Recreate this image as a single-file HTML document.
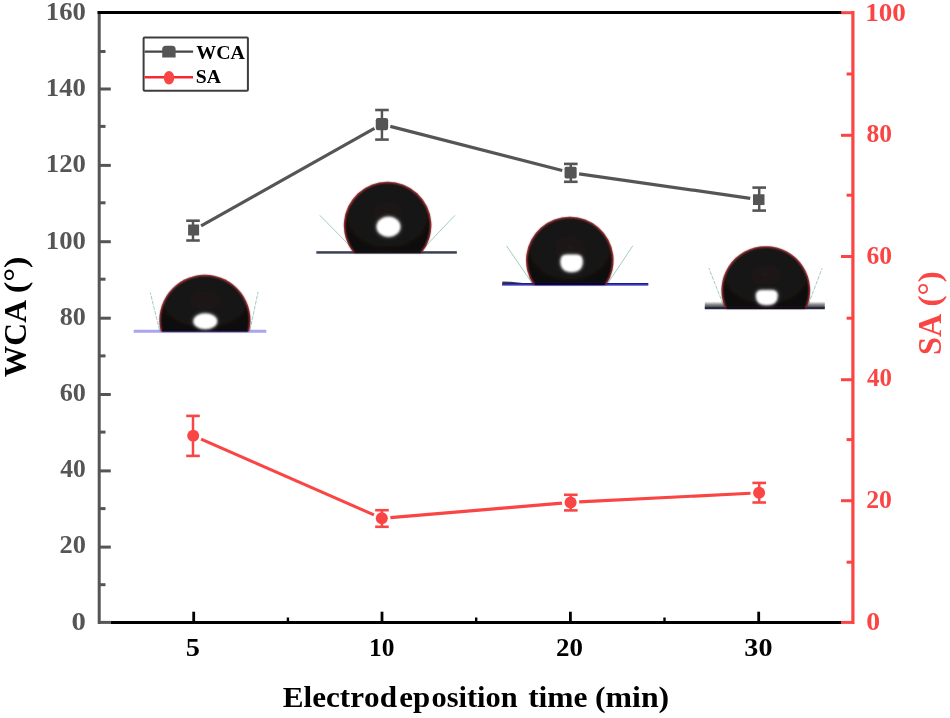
<!DOCTYPE html>
<html><head><meta charset="utf-8"><title>WCA / SA vs electrodeposition time</title>
<style>html,body{margin:0;padding:0;background:#fff;}body{width:950px;height:718px;overflow:hidden;font-family:"Liberation Serif",serif;}svg{display:block;}text{font-family:"Liberation Serif",serif;font-weight:bold;font-kerning:none;}</style>
</head><body>
<svg width="950" height="718" viewBox="0 0 950 718">
<defs><filter id="b1" filterUnits="userSpaceOnUse" x="0" y="0" width="950" height="718"><feGaussianBlur stdDeviation="1.1"/></filter><filter id="b0" filterUnits="userSpaceOnUse" x="0" y="0" width="950" height="718"><feGaussianBlur stdDeviation="0.55"/></filter><filter id="bt" filterUnits="userSpaceOnUse" x="0" y="0" width="950" height="718"><feGaussianBlur stdDeviation="0.5"/></filter><filter id="b2" filterUnits="userSpaceOnUse" x="0" y="0" width="950" height="718"><feGaussianBlur stdDeviation="2.2"/></filter><filter id="bd" filterUnits="userSpaceOnUse" x="0" y="0" width="950" height="718"><feGaussianBlur stdDeviation="0.8"/></filter><radialGradient id="dg" cx="50%" cy="45%" r="60%"><stop offset="0" stop-color="#1c1a19"/><stop offset="0.7" stop-color="#161413"/><stop offset="1" stop-color="#0c0b0b"/></radialGradient></defs>
<rect width="950" height="718" fill="#fff"/>
<g id="axes" filter="url(#bt)">
<line x1="110.6" y1="622.4" x2="841.5" y2="622.4" stroke="#000000" stroke-width="3"/>
<line x1="193.7" y1="622.4" x2="193.7" y2="611.7" stroke="#000000" stroke-width="2.8"/>
<line x1="382.0" y1="622.4" x2="382.0" y2="611.7" stroke="#000000" stroke-width="2.8"/>
<line x1="570.4" y1="622.4" x2="570.4" y2="611.7" stroke="#000000" stroke-width="2.8"/>
<line x1="758.7" y1="622.4" x2="758.7" y2="611.7" stroke="#000000" stroke-width="2.8"/>
<line x1="287.9" y1="622.4" x2="287.9" y2="617.5" stroke="#000000" stroke-width="2.4"/>
<line x1="476.2" y1="622.4" x2="476.2" y2="617.5" stroke="#000000" stroke-width="2.4"/>
<line x1="664.5" y1="622.4" x2="664.5" y2="617.5" stroke="#000000" stroke-width="2.4"/>
<line x1="99.2" y1="11.2" x2="99.2" y2="623.9" stroke="#555555" stroke-width="3.0"/>
<line x1="99.2" y1="622.40" x2="110.8" y2="622.40" stroke="#555555" stroke-width="3"/>
<line x1="99.2" y1="584.70" x2="105.5" y2="584.70" stroke="#555555" stroke-width="3"/>
<line x1="99.2" y1="547.10" x2="110.8" y2="547.10" stroke="#555555" stroke-width="3"/>
<line x1="99.2" y1="508.60" x2="105.5" y2="508.60" stroke="#555555" stroke-width="3"/>
<line x1="99.2" y1="470.90" x2="110.8" y2="470.90" stroke="#555555" stroke-width="3"/>
<line x1="99.2" y1="432.10" x2="105.5" y2="432.10" stroke="#555555" stroke-width="3"/>
<line x1="99.2" y1="394.50" x2="110.8" y2="394.50" stroke="#555555" stroke-width="3"/>
<line x1="99.2" y1="355.90" x2="105.5" y2="355.90" stroke="#555555" stroke-width="3"/>
<line x1="99.2" y1="318.20" x2="110.8" y2="318.20" stroke="#555555" stroke-width="3"/>
<line x1="99.2" y1="279.20" x2="105.5" y2="279.20" stroke="#555555" stroke-width="3"/>
<line x1="99.2" y1="241.70" x2="110.8" y2="241.70" stroke="#555555" stroke-width="3"/>
<line x1="99.2" y1="202.80" x2="105.5" y2="202.80" stroke="#555555" stroke-width="3"/>
<line x1="99.2" y1="165.40" x2="110.8" y2="165.40" stroke="#555555" stroke-width="3"/>
<line x1="99.2" y1="126.40" x2="105.5" y2="126.40" stroke="#555555" stroke-width="3"/>
<line x1="99.2" y1="89.00" x2="110.8" y2="89.00" stroke="#555555" stroke-width="3"/>
<line x1="99.2" y1="51.50" x2="105.5" y2="51.50" stroke="#555555" stroke-width="3"/>
<line x1="852.9" y1="11.1" x2="852.9" y2="623.9" stroke="#fa4545" stroke-width="3.2"/>
<line x1="841.0" y1="622.40" x2="852.9" y2="622.40" stroke="#fa4545" stroke-width="3"/>
<line x1="846.6" y1="562.20" x2="852.9" y2="562.20" stroke="#fa4545" stroke-width="3"/>
<line x1="841.0" y1="500.70" x2="852.9" y2="500.70" stroke="#fa4545" stroke-width="3"/>
<line x1="846.6" y1="439.60" x2="852.9" y2="439.60" stroke="#fa4545" stroke-width="3"/>
<line x1="841.0" y1="379.70" x2="852.9" y2="379.70" stroke="#fa4545" stroke-width="3"/>
<line x1="846.6" y1="318.20" x2="852.9" y2="318.20" stroke="#fa4545" stroke-width="3"/>
<line x1="841.0" y1="256.50" x2="852.9" y2="256.50" stroke="#fa4545" stroke-width="3"/>
<line x1="846.6" y1="195.20" x2="852.9" y2="195.20" stroke="#fa4545" stroke-width="3"/>
<line x1="841.0" y1="135.30" x2="852.9" y2="135.30" stroke="#fa4545" stroke-width="3"/>
<line x1="846.6" y1="74.00" x2="852.9" y2="74.00" stroke="#fa4545" stroke-width="3"/>
<line x1="841.0" y1="12.70" x2="852.9" y2="12.70" stroke="#fa4545" stroke-width="3"/>
<line x1="97.60000000000001" y1="12.6" x2="841.2" y2="12.6" stroke="#000000" stroke-width="3.0"/>
</g>
<g id="ticklabels" filter="url(#bt)">
<text transform="translate(71.62,629.70) scale(1.1765,1.0000)" font-size="24.4" fill="#555555">0</text>
<text transform="translate(59.48,553.47) scale(1.0825,1.0000)" font-size="24.4" fill="#555555">20</text>
<text transform="translate(60.28,477.25) scale(1.0483,1.0000)" font-size="24.4" fill="#555555">40</text>
<text transform="translate(59.68,401.03) scale(1.0737,1.0000)" font-size="24.4" fill="#555555">60</text>
<text transform="translate(59.75,324.80) scale(1.0709,1.0000)" font-size="24.4" fill="#555555">80</text>
<text transform="translate(45.86,248.57) scale(1.0939,1.0000)" font-size="24.4" fill="#555555">100</text>
<text transform="translate(45.86,172.35) scale(1.0939,1.0000)" font-size="24.4" fill="#555555">120</text>
<text transform="translate(45.86,96.13) scale(1.0939,1.0000)" font-size="24.4" fill="#555555">140</text>
<text transform="translate(45.86,19.90) scale(1.0939,1.0000)" font-size="24.4" fill="#555555">160</text>
<text transform="translate(866.26,630.30) scale(1.1379,1.0000)" font-size="24.4" fill="#fa4545">0</text>
<text transform="translate(866.21,508.34) scale(1.0558,1.0000)" font-size="24.4" fill="#fa4545">20</text>
<text transform="translate(866.99,386.38) scale(1.0224,1.0000)" font-size="24.4" fill="#fa4545">40</text>
<text transform="translate(866.41,264.42) scale(1.0472,1.0000)" font-size="24.4" fill="#fa4545">60</text>
<text transform="translate(866.47,142.46) scale(1.0444,1.0000)" font-size="24.4" fill="#fa4545">80</text>
<text transform="translate(865.13,20.50) scale(1.1117,1.0000)" font-size="24.4" fill="#fa4545">100</text>
<text transform="translate(185.76,656.00) scale(1.1640,1.0000)" font-size="24.4" fill="#000000">5</text>
<text transform="translate(368.96,656.00) scale(1.0449,1.0000)" font-size="24.4" fill="#000000">10</text>
<text transform="translate(556.05,656.00) scale(1.1048,1.0000)" font-size="24.4" fill="#000000">20</text>
<text transform="translate(744.35,656.00) scale(1.1520,1.0000)" font-size="24.4" fill="#000000">30</text>
</g>
<g id="titles" filter="url(#bt)">
<text transform="translate(282.75,707.20) scale(1.0257,1.0000)" font-size="30.4" fill="#000000">Electrod</text>
<text transform="translate(399.32,707.20) scale(1.0171,1.0000)" font-size="30.4" fill="#000000">ep</text>
<text transform="translate(431.46,707.20) scale(0.9999,1.0000)" font-size="30.4" fill="#000000">osition</text>
<text transform="translate(528.13,707.20) scale(1.0359,1.0000)" font-size="30.4" fill="#000000">time</text>
<text transform="translate(594.97,707.20) scale(1.0474,1.0000)" font-size="30.4" fill="#000000">(min)</text>
<text transform="translate(25.90,377.17) rotate(-90) scale(0.9856,1.0000)" font-size="32" fill="#000000">WCA</text>
<text transform="translate(25.90,293.26) rotate(-90) scale(1.0806,1.0000)" font-size="32" fill="#000000">(°)</text>
<text transform="translate(940.50,354.99) rotate(-90) scale(1.0280,1.0550)" font-size="31.4" fill="#fa4545">SA</text>
<text transform="translate(939.50,306.38) rotate(-90) scale(1.0491,0.9750)" font-size="31.4" fill="#fa4545">(°)</text>
</g>
<g id="droplets">

<line x1="159.5" y1="330" x2="150.3" y2="292.6" stroke="#6fb39a" stroke-width="1" stroke-dasharray="4 1.2" opacity="0.65"/>
<line x1="250" y1="330" x2="258.1" y2="291.8" stroke="#6fb39a" stroke-width="1" stroke-dasharray="4 1.2" opacity="0.65"/>
<line x1="133.7" y1="331.2" x2="266.3" y2="331.2" stroke="#a9a5ee" stroke-width="3.0" filter="url(#bt)"/>
<path d="M160.67,331.20 A45.55,45.55 0 1 1 249.13,331.20 Z" fill="#e8202c" opacity="0.85" filter="url(#b0)"/>
<path d="M161.55,331.20 A44.699999999999996,44.699999999999996 0 1 1 248.25,331.20 Z" fill="url(#dg)" filter="url(#bd)"/>
<line x1="162.05" y1="330.45" x2="247.75" y2="330.45" stroke="#0a0a26" stroke-width="1.90" filter="url(#bt)"/>
<ellipse cx="205.3" cy="321.2" rx="11.8" ry="7.8" fill="#fff" opacity="0.55" filter="url(#b2)"/>
<ellipse cx="205.3" cy="321.2" rx="11.8" ry="7.8" fill="#fff" filter="url(#b1)"/>

<line x1="355" y1="251" x2="319.8" y2="215.3" stroke="#6fb39a" stroke-width="1" opacity="0.65"/>
<line x1="421" y1="251" x2="455" y2="215.3" stroke="#6fb39a" stroke-width="1" opacity="0.65"/>
<line x1="316.4" y1="253.10" x2="456.8" y2="253.10" stroke="#4a506a" stroke-width="1.50" filter="url(#bt)"/>
<line x1="316.4" y1="251.90" x2="456.8" y2="251.90" stroke="#262b40" stroke-width="1.50" filter="url(#bt)"/>
<path d="M353.18,252.50 A43.75,43.75 0 1 1 422.02,252.50 Z" fill="#e8202c" opacity="0.85" filter="url(#b0)"/>
<path d="M354.26,252.50 A42.9,42.9 0 1 1 420.94,252.50 Z" fill="url(#dg)" filter="url(#bd)"/>
<line x1="354.76" y1="251.90" x2="420.44" y2="251.90" stroke="#0b0c16" stroke-width="1.60" filter="url(#bt)"/>
<ellipse cx="388.5" cy="226.8" rx="11.8" ry="10.0" fill="#fff" opacity="0.55" filter="url(#b2)"/>
<ellipse cx="388.5" cy="226.8" rx="11.8" ry="10.0" fill="#fff" filter="url(#b1)"/>
<path d="M502.3,281.5 L511,281.8 L525,283.3 L502.3,283.3 Z" fill="#3c3c36" filter="url(#bt)"/>
<line x1="532" y1="283" x2="506.5" y2="245.8" stroke="#6fb39a" stroke-width="1" opacity="0.65"/>
<line x1="608" y1="283" x2="632.8" y2="245.8" stroke="#6fb39a" stroke-width="1" opacity="0.65"/>
<line x1="502.1" y1="285.20" x2="648.3" y2="285.20" stroke="#7c7ce2" stroke-width="1.70" filter="url(#bt)"/>
<line x1="502.1" y1="283.80" x2="648.3" y2="283.80" stroke="#1c1c90" stroke-width="1.70" filter="url(#bt)"/>
<path d="M533.29,284.50 A43.75,43.75 0 1 1 606.31,284.50 Z" fill="#e8202c" opacity="0.85" filter="url(#b0)"/>
<path d="M534.31,284.50 A42.9,42.9 0 1 1 605.29,284.50 Z" fill="url(#dg)" filter="url(#bd)"/>
<line x1="534.81" y1="283.80" x2="604.79" y2="283.80" stroke="#06063a" stroke-width="1.80" filter="url(#bt)"/>
<path d="M560.6,261.15000000000003 Q560.6,254.70000000000002 566.65,254.70000000000002 L576.5500000000001,254.70000000000002 Q582.6,254.70000000000002 582.6,261.15000000000003 Q582.6,271.90000000000003 571.6,271.90000000000003 Q560.6,271.90000000000003 560.6,261.15000000000003 Z" fill="#fff" opacity="0.55" filter="url(#b2)"/>
<path d="M560.6,261.15000000000003 Q560.6,254.70000000000002 566.65,254.70000000000002 L576.5500000000001,254.70000000000002 Q582.6,254.70000000000002 582.6,261.15000000000003 Q582.6,271.90000000000003 571.6,271.90000000000003 Q560.6,271.90000000000003 560.6,261.15000000000003 Z" fill="#fff" filter="url(#b1)"/>
<defs><linearGradient id="g4" x1="0" y1="0" x2="0" y2="1"><stop offset="0" stop-color="#f2f2f2"/><stop offset="0.45" stop-color="#8a8a8c"/><stop offset="1" stop-color="#2a2c3c"/></linearGradient></defs><rect x="704.8" y="301.8" width="120" height="6.2" fill="url(#g4)" filter="url(#bt)"/>
<line x1="723" y1="304" x2="708.9" y2="268.2" stroke="#6fb39a" stroke-width="1" stroke-dasharray="4 1.2" opacity="0.65"/>
<line x1="808.5" y1="304" x2="822.1" y2="268.2" stroke="#6fb39a" stroke-width="1" stroke-dasharray="4 1.2" opacity="0.65"/>
<line x1="704.8" y1="308.3" x2="824.8" y2="308.3" stroke="#23263c" stroke-width="2.0" filter="url(#bt)"/>
<path d="M725.18,308.30 A44.35,44.35 0 1 1 806.42,308.30 Z" fill="#e8202c" opacity="0.85" filter="url(#b0)"/>
<path d="M726.11,308.30 A43.5,43.5 0 1 1 805.49,308.30 Z" fill="url(#dg)" filter="url(#bd)"/>
<line x1="726.61" y1="307.80" x2="804.99" y2="307.80" stroke="#0c0c1c" stroke-width="1.40" filter="url(#bt)"/>
<path d="M756.0,295.38 Q756.0,290.20000000000005 761.9399999999999,290.20000000000005 L771.66,290.20000000000005 Q777.5999999999999,290.20000000000005 777.5999999999999,295.38 Q777.5999999999999,305.0 766.8,305.0 Q756.0,305.0 756.0,295.38 Z" fill="#fff" opacity="0.55" filter="url(#b2)"/>
<path d="M756.0,295.38 Q756.0,290.20000000000005 761.9399999999999,290.20000000000005 L771.66,290.20000000000005 Q777.5999999999999,290.20000000000005 777.5999999999999,295.38 Q777.5999999999999,305.0 766.8,305.0 Q756.0,305.0 756.0,295.38 Z" fill="#fff" filter="url(#b1)"/>
</g>
<g id="wca" filter="url(#bt)">
<line x1="201.10" y1="225.79" x2="374.45" y2="128.41" stroke="#555555" stroke-width="3.2"/>
<line x1="390.28" y1="126.34" x2="562.27" y2="170.46" stroke="#555555" stroke-width="3.2"/>
<line x1="579.11" y1="173.82" x2="750.24" y2="198.38" stroke="#555555" stroke-width="3.2"/>
<line x1="193.0" y1="220.7" x2="193.0" y2="240.5" stroke="#555555" stroke-width="2.5"/>
<line x1="186.2" y1="220.7" x2="199.8" y2="220.7" stroke="#555555" stroke-width="2.6"/>
<line x1="186.2" y1="240.5" x2="199.8" y2="240.5" stroke="#555555" stroke-width="2.6"/>
<rect x="188.10" y="224.55" width="11.0" height="10.9" rx="0.4" fill="#555555"/>
<line x1="381.95" y1="110.0" x2="381.95" y2="139.6" stroke="#555555" stroke-width="2.5"/>
<line x1="375.15" y1="110.0" x2="388.75" y2="110.0" stroke="#555555" stroke-width="2.6"/>
<line x1="375.15" y1="139.6" x2="388.75" y2="139.6" stroke="#555555" stroke-width="2.6"/>
<rect x="375.75" y="118.10" width="12.4" height="12.2" rx="2.2" fill="#555555"/>
<line x1="570.8" y1="163.9" x2="570.8" y2="181.8" stroke="#555555" stroke-width="2.5"/>
<line x1="564.0" y1="163.9" x2="577.5999999999999" y2="163.9" stroke="#555555" stroke-width="2.6"/>
<line x1="564.0" y1="181.8" x2="577.5999999999999" y2="181.8" stroke="#555555" stroke-width="2.6"/>
<rect x="564.55" y="166.80" width="12.1" height="11.6" rx="1.6" fill="#555555"/>
<line x1="759.2" y1="187.6" x2="759.2" y2="210.6" stroke="#555555" stroke-width="2.5"/>
<line x1="752.4000000000001" y1="187.6" x2="766.0" y2="187.6" stroke="#555555" stroke-width="2.6"/>
<line x1="752.4000000000001" y1="210.6" x2="766.0" y2="210.6" stroke="#555555" stroke-width="2.6"/>
<rect x="753.00" y="194.15" width="11.5" height="10.9" rx="0.4" fill="#555555"/>
</g>
<g id="sa" filter="url(#bt)">
<line x1="201.08" y1="439.15" x2="373.92" y2="514.85" stroke="#fa4545" stroke-width="3.2"/>
<line x1="390.37" y1="517.58" x2="562.03" y2="503.12" stroke="#fa4545" stroke-width="3.2"/>
<line x1="579.19" y1="501.96" x2="750.51" y2="493.24" stroke="#fa4545" stroke-width="3.2"/>
<line x1="193.0" y1="415.9" x2="193.0" y2="455.9" stroke="#fa4545" stroke-width="2.5"/>
<line x1="186.2" y1="415.9" x2="199.8" y2="415.9" stroke="#fa4545" stroke-width="2.6"/>
<line x1="186.2" y1="455.9" x2="199.8" y2="455.9" stroke="#fa4545" stroke-width="2.6"/>
<ellipse cx="193.2" cy="435.7" rx="6.0" ry="6.0" fill="#fa4545"/>
<line x1="381.95" y1="510.2" x2="381.95" y2="526.8" stroke="#fa4545" stroke-width="2.5"/>
<line x1="375.15" y1="510.2" x2="388.75" y2="510.2" stroke="#fa4545" stroke-width="2.6"/>
<line x1="375.15" y1="526.8" x2="388.75" y2="526.8" stroke="#fa4545" stroke-width="2.6"/>
<ellipse cx="381.8" cy="518.3" rx="6.0" ry="6.0" fill="#fa4545"/>
<line x1="570.8" y1="494.8" x2="570.8" y2="510.4" stroke="#fa4545" stroke-width="2.5"/>
<line x1="564.0" y1="494.8" x2="577.5999999999999" y2="494.8" stroke="#fa4545" stroke-width="2.6"/>
<line x1="564.0" y1="510.4" x2="577.5999999999999" y2="510.4" stroke="#fa4545" stroke-width="2.6"/>
<ellipse cx="570.6" cy="502.4" rx="6.0" ry="6.0" fill="#fa4545"/>
<line x1="759.2" y1="482.9" x2="759.2" y2="502.5" stroke="#fa4545" stroke-width="2.5"/>
<line x1="752.4000000000001" y1="482.9" x2="766.0" y2="482.9" stroke="#fa4545" stroke-width="2.6"/>
<line x1="752.4000000000001" y1="502.5" x2="766.0" y2="502.5" stroke="#fa4545" stroke-width="2.6"/>
<ellipse cx="759.1" cy="492.8" rx="6.0" ry="6.0" fill="#fa4545"/>
</g>
<g id="legend" filter="url(#bt)">
<rect x="143.6" y="37.4" width="104.3" height="53.4" rx="1" fill="#fff" stroke="#3c3c3c" stroke-width="2"/>
<line x1="144.6" y1="51.7" x2="193.1" y2="51.7" stroke="#444" stroke-width="2.3"/>
<path d="M162.2,57.4 V49.3 Q162.2,45.8 165.7,45.8 H172.1 Q175.6,45.8 175.6,49.3 V57.4 Z" fill="#555555"/>
<line x1="144.6" y1="77.2" x2="193.1" y2="77.2" stroke="#f22a30" stroke-width="2.5"/>
<ellipse cx="169" cy="77.8" rx="5.3" ry="6.7" fill="#fa4545"/>
<text transform="translate(196.30,59.20) scale(1.0172,1.0000)" font-size="19.6" fill="#000">WCA</text>
<text transform="translate(195.77,83.00) scale(1.0057,1.0000)" font-size="19.6" fill="#000">SA</text>
</g>
</svg>
</body></html>
